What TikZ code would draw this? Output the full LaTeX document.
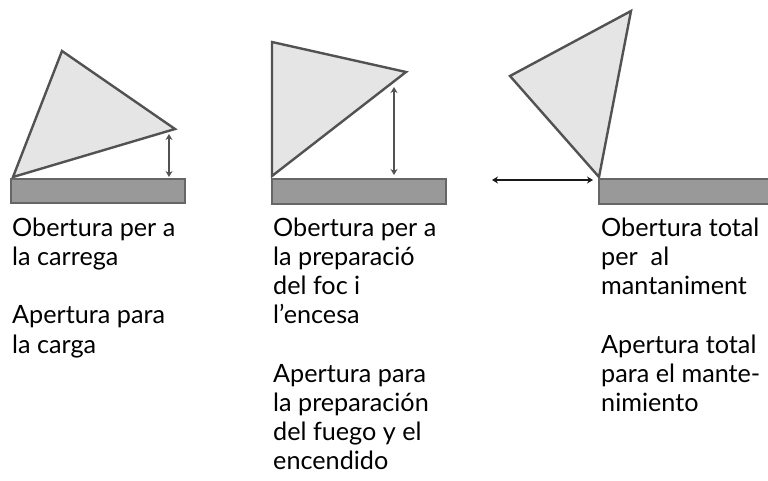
\documentclass[tikz,border=0pt]{standalone}
\usepackage{fontspec}
\usetikzlibrary{arrows.meta}
\setmainfont{Lato}
\begin{document}
\begin{tikzpicture}[x=1pt,y=-1pt,
  lid/.style={draw=black!68,line width=2.4pt,fill=black!10,line join=miter},
  base/.style={draw=black!60,line width=1.8pt,fill=black!40},
  gauge/.style={draw=black!68,line width=1.8pt,{Stealth[length=6pt,width=7pt]}-{Stealth[length=6pt,width=7pt]}},
  caption/.style={anchor=north west,inner sep=0pt,align=left,font=\fontsize{25.2pt}{29.2pt}\selectfont}]
\useasboundingbox (0,0) rectangle (768,480);
\fill[white] (0,0) rectangle (768,480);
% left
\draw[lid] (13,177) -- (62,51) -- (175,129) -- cycle;
\draw[base] (11,179) rectangle (185,203);
\coordinate (a1) at (169,134); \coordinate (a2) at (169,177);
\draw[gauge] (a1) -- (a2);
\node[caption] (t1) at (12,217.5) {Obertura per a\\la carrega\\[29.2pt]Apertura para\\la carga};
% middle
\draw[lid] (272,176) -- (272,42) -- (406,72) -- cycle;
\draw[base] (272,179) rectangle (446,204);
\coordinate (b1) at (394,87); \coordinate (b2) at (394,175);
\draw[gauge] (b1) -- (b2);
\node[caption] (t2) at (273,217.5) {Obertura per a\\la preparació\\del foc i\\l’encesa\\[29.2pt]Apertura para\\la preparación\\del fuego y el\\encendido};
% right
\draw[lid] (599,177) -- (510,76) -- (631,11) -- cycle;
\draw[base] (599,179) rectangle (772,204);
\coordinate (c1) at (492,180); \coordinate (c2) at (593,180);
\draw[gauge,draw=black!90] (c1) -- (c2);
\node[caption] (t3) at (601,217.5) {Obertura total\\per\ \ al\\mantaniment\\[29.2pt]Apertura total\\para el mante-\\nimiento};
\end{tikzpicture}
\end{document}
